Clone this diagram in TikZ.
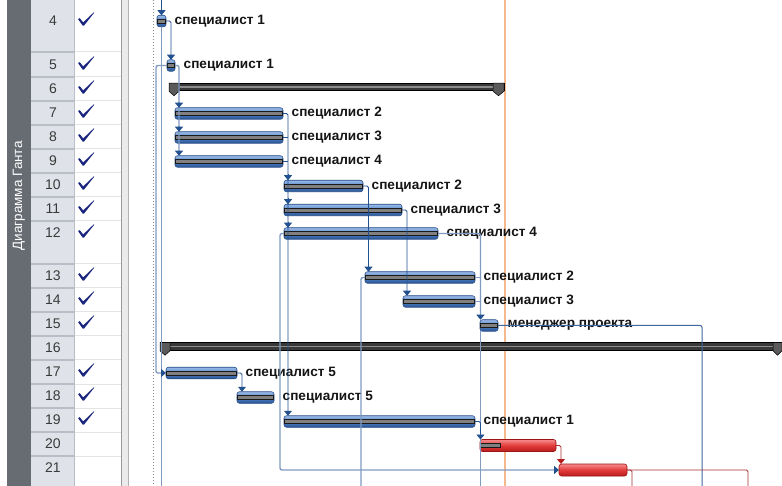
\documentclass[tikz,border=0pt]{standalone}
\usepackage{fontspec}
\setmainfont{Liberation Sans}
\usetikzlibrary{arrows.meta,calc}
\definecolor{band}{HTML}{676B72}
\definecolor{numbg}{HTML}{DFE3E9}
\definecolor{numsep}{HTML}{B9BEC6}
\definecolor{chksep}{HTML}{E3E3E3}
\definecolor{chk}{HTML}{1B267F}
\definecolor{numtxt}{HTML}{3A3A3A}
\definecolor{txt}{HTML}{151515}
\definecolor{dkln}{HTML}{23508E}
\definecolor{ltln}{HTML}{7F9BC2}
\definecolor{barlt}{HTML}{9CBDE9}
\definecolor{barmd}{HTML}{4F80C6}
\definecolor{bardk}{HTML}{2A5696}
\definecolor{barbd}{HTML}{234A86}
\definecolor{redlt}{HTML}{F58C8C}
\definecolor{redmd}{HTML}{E23A3A}
\definecolor{reddk}{HTML}{B71C1C}
\definecolor{redbd}{HTML}{9E1414}
\definecolor{redln}{HTML}{A53030}
\definecolor{orng}{HTML}{F6B98C}
\definecolor{sumf}{HTML}{383838}
\definecolor{capf}{HTML}{5A5A5A}
\definecolor{splt}{HTML}{EBEBEB}
\tikzset{
  gbar/.style={draw=barbd,line width=0.6pt,rounded corners=2.5pt,top color=barlt,bottom color=bardk,middle color=barmd,minimum height=11.5pt,inner sep=0pt,outer sep=0pt,anchor=west},
  rbar/.style={draw=redbd,line width=0.6pt,rounded corners=2.5pt,top color=redlt,bottom color=reddk,middle color=redmd,minimum height=12pt,inner sep=0pt,outer sep=0pt,anchor=west},
  sbar/.style={draw=black,fill=sumf,line width=0.5pt,minimum height=7.5pt,inner sep=0pt,outer sep=0pt,anchor=west},
  stripe/.style={draw=black!90,fill=black!50,line width=0.5pt},
  sstripe/.style={fill=black!45},
  capst/.style={fill=capf,draw=black,line width=0.5pt},
  lbl/.style={font=\bfseries\fontsize{13.6}{16}\selectfont,anchor=west,inner sep=0pt,text=txt},
  num/.style={font=\fontsize{14}{16}\selectfont,text=numtxt,inner sep=0pt},
  tickst/.style={fill=chk},
  vtxt/.style={font=\fontsize{13.5}{16}\selectfont,text=white,inner sep=0pt,rotate=90},
  dk/.style={draw=dkln,line width=0.9pt,rounded corners=1.5pt},
  lt/.style={draw=ltln,line width=1.4pt,rounded corners=2pt},
  md/.style={draw=dkln!70!ltln,line width=1pt,rounded corners=2pt},
  rd/.style={draw=redln,line width=0.9pt,rounded corners=1.5pt},
  ab/.style={-{Triangle[width=8pt,length=5pt,color=dkln]}},
  rab/.style={-{Triangle[width=8pt,length=5pt,color=reddk]}},
}
\newcommand\tickmark[1]{%
  \fill[tickst] (78,#1-2) -- (79.8,#1-2.8) -- (83.2,#1+1.4) -- (93.8,#1-8.7) -- (94.2,#1-8.3) -- (84.1,#1+4.5) -- (82.7,#1+4.6) -- cycle;}
\begin{document}
\begin{tikzpicture}[x=1pt,y=-1pt]
\useasboundingbox (0,0) rectangle (782,486);
\clip (0,0) rectangle (782,486);
\fill[white] (0,0) rectangle (782,486);
% left panel
\fill[band] (7,0) rectangle (31,486);
\fill[numbg] (31,0) rectangle (74.5,486);
\draw[numsep] (74.5,0) -- (74.5,486);
\foreach \yy in {52,77,101,125,149,173,197,221,264,288,312,336,360,384,408,432,456}{
  \draw[numsep,line width=1.2pt] (31,\yy) -- (74.5,\yy);
  \draw[chksep,line width=1pt] (74.5,\yy) -- (121,\yy);
}
\fill[splt] (121,0) rectangle (129,486);
\draw[black!40] (121.5,0) -- (121.5,486);
\draw[black!30] (128.5,0) -- (128.5,486);
\node[vtxt] (vt) at (19,196) {Диаграмма Ганта};
\foreach \n/\yy/\c in {4/21/1,5/65/1,6/89/1,7/113/1,8/137/1,9/161/1,10/185/1,11/209/1,12/233/1,13/276/1,14/300/1,15/324/1,16/348/0,17/372/1,18/396/1,19/420/1,20/444/0,21/468/0}{
  \node[num] (n\n) at (53,\yy) {\n};
  \ifnum\c=1 \tickmark{\yy}\fi
}
% gantt area
\draw[black!45,line width=0.8pt,dash pattern=on 0.8pt off 2.2pt] (153,0) -- (153,486);
\draw[orng,line width=1.3pt] (505,0) -- (505,486);
% bars
\node[gbar,minimum width=9pt] (b4) at (157,21) {};
\node[gbar,minimum width=8pt] (b5) at (167,65.5) {};
\node[sbar,minimum width=335pt] (s6) at (169,87) {};
\node[gbar,minimum width=108pt] (b7) at (175,113.5) {};
\node[gbar,minimum width=108pt] (b8) at (175,137.5) {};
\node[gbar,minimum width=108pt] (b9) at (175,161.5) {};
\node[gbar,minimum width=79pt] (b10) at (284,186) {};
\node[gbar,minimum width=118pt] (b11) at (284,210) {};
\node[gbar,minimum width=154pt] (b12) at (284,233.5) {};
\node[gbar,minimum width=110pt] (b13) at (365,277.5) {};
\node[gbar,minimum width=72pt] (b14) at (403,301.5) {};
\node[gbar,minimum width=18pt] (b15) at (480,325.5) {};
\node[sbar,minimum width=624pt] (s16) at (160,346.5) {};
\node[gbar,minimum width=71pt] (b17) at (166,373) {};
\node[gbar,minimum width=37pt] (b18) at (237,397.5) {};
\node[gbar,minimum width=191pt] (b19) at (284,421.5) {};
\node[rbar,minimum width=76pt] (r20) at (480,445.5) {};
\node[rbar,minimum width=68pt] (r21) at (559,470) {};
% progress stripes
\foreach \b in {b4,b5,b7,b8,b9,b10,b11,b12,b13,b14,b15,b17,b18,b19}{
  \draw[stripe] ($(\b.west)+(0.6,-1.8)$) rectangle ($(\b.east)+(-0.6,1.8)$);
}
\draw[stripe] ($(r20.west)+(0.6,-1.8)$) rectangle ($(r20.west)+(20,1.8)$);
% summary bars
\foreach \s in {s6,s16}{
  \fill[sstripe] ($(\s.west)+(0.5,-0.6)$) rectangle ($(\s.east)+(-0.5,0.9)$);
}
\draw[capst] (s6.north west) -- ++(10,0) -- ++(0,8) -- ++(-5,4.5) -- ++(-5,-4.5) -- cycle;
\draw[capst] (s6.north east) -- ++(-11,0) -- ++(0,8) -- ++(5.5,4.5) -- ++(5.5,-4.5) -- cycle;
\draw[capst] (s16.north west) -- ++(10,0) -- ++(0,8) -- ++(-5,4.5) -- ++(-5,-4.5) -- cycle;
\draw[capst] ($(s16.north east)+(-2,0)$) -- ++(-9,0) -- ++(0,8) -- ++(4.5,4.5) -- ++(4.5,-4.5) -- cycle;
% labels
\node[lbl] (l4) at ($(b4.east)+(8.5,0)$) {специалист 1};
\node[lbl] (l5) at ($(b5.east)+(8.5,0)$) {специалист 1};
\node[lbl] (l7) at ($(b7.east)+(8.5,0)$) {специалист 2};
\node[lbl] (l8) at ($(b8.east)+(8.5,0)$) {специалист 3};
\node[lbl] (l9) at ($(b9.east)+(8.5,0)$) {специалист 4};
\node[lbl] (l10) at ($(b10.east)+(8.5,0)$) {специалист 2};
\node[lbl] (l11) at ($(b11.east)+(8.5,0)$) {специалист 3};
\node[lbl] (l12) at ($(b12.east)+(8.5,0)$) {специалист 4};
\node[lbl] (l13) at ($(b13.east)+(8.5,0)$) {специалист 2};
\node[lbl] (l14) at ($(b14.east)+(8.5,0)$) {специалист 3};
\node[lbl] (l15) at ($(b15.east)+(9.5,0)$) {менеджер проекта};
\node[lbl] (l17) at ($(b17.east)+(8.5,0)$) {специалист 5};
\node[lbl] (l18) at ($(b18.east)+(8.5,0)$) {специалист 5};
\node[lbl] (l19) at ($(b19.east)+(8.5,0)$) {специалист 1};
% connectors
\coordinate (t4) at (161.5,-2);
\draw[dk,ab] (t4) -- (b4.north);
\draw[dk,ab] (b4.east) -| (b5.north);
\draw[lt] (b4.south) -- ++(0,480);
\draw[lt,ab] (b5.west) -- ++(-11,0) |- (b17.west);
\draw[lt,ab] (b5.east) -| ($(b9.north west)+(4,0)$);
\draw[lt,ab] ($(b7.north west)+(4,-6)$) -- ($(b7.north west)+(4,0)$);
\draw[lt,ab] ($(b8.north west)+(4,-6)$) -- ($(b8.north west)+(4,0)$);
\draw[dk,ab] (b7.east) -| ($(b19.north west)+(4,0)$);
\draw[dk] (b8.east) -- ++(5,0);
\draw[dk] (b9.east) -- ++(5,0);
\foreach \b in {b10,b11,b12}{
  \draw[dk,ab] ($(\b.north west)+(4,-6)$) -- ($(\b.north west)+(4,0)$);
}
\draw[dk,ab] (b10.east) -| ($(b13.north west)+(3.5,0)$);
\draw[dk,ab] (b11.east) -| ($(b14.north west)+(4,0)$);
\draw[lt,ab] (b12.east) -| ($(b15.north west)+(0.5,0)$);
\draw[lt] (b13.east) -- ++(5,0);
\draw[lt] (b14.east) -- ++(5,0);
\draw[lt,ab] (b12.west) -- ++(-4,0) |- (r21.west);
\draw[lt] (b13.west) -- ++(-4,0) -- ++(0,300);
\draw[md] (b15.east) -- ++(204,0) -- ++(0,300);
\draw[lt] ($(b15.south west)+(0.5,0)$) -- ++(0,300);
\draw[dk,ab] (b17.east) -| ($(b18.north west)+(5,0)$);
\draw[dk,ab] (b19.east) -| ($(r20.north west)+(0.5,0)$);
\draw[rd,rab] (r20.east) -| ($(r21.north west)+(2,0)$);
\draw[rd] (r21.east) -- ++(121,0) -- ++(0,100);
\draw[rd] (r21.east) -- ++(5,0) -- ++(0,100);
\end{tikzpicture}
\end{document}
